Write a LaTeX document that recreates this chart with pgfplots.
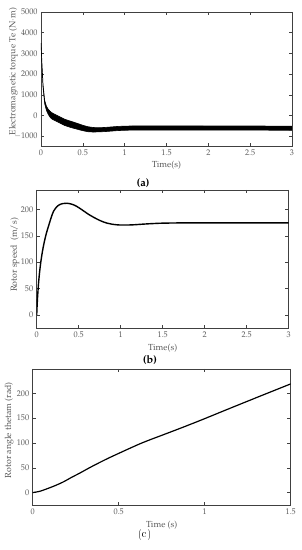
\documentclass[border=0pt]{standalone}
\usepackage[T1]{fontenc}
\usepackage{mathpazo}
\usepackage{pgfplots}
\pgfplotsset{compat=1.18}
\definecolor{axgray}{gray}{0.25}
\definecolor{txtgray}{gray}{0.35}
\pgfplotsset{
  myax/.style={
    scale only axis,
    anchor=south west,
    axis line style={axgray, line width=0.6pt},
    every tick/.style={axgray, line width=0.5pt},
    tick align=inside,
    major tick length=3.2pt,
    tick label style={font=\fontsize{8.2}{9}\selectfont, text=txtgray},
    label style={font=\fontsize{8.8}{10}\selectfont, text=txtgray},
    xlabel={Time(s)},
    ylabel style={anchor=center},
    xlabel style={anchor=center},
    clip=true,
  }
}
\begin{document}
\begin{tikzpicture}
\useasboundingbox (0,0) rectangle (301pt,550pt);
% ---------------- (a)
\begin{axis}[myax,
  at={(41pt,404pt)}, width=251pt, height=134pt,
  xmin=0, xmax=3, ymin=-1470, ymax=5000,
  xtick={0,0.5,1,1.5,2,2.5,3},
  xticklabels={0,0.5,1,1.5,2,2.5,3},
  ytick={-1000,0,1000,2000,3000,4000,5000},
  scaled y ticks=false,
  yticklabel style={/pgf/number format/1000 sep={}},
  ylabel={Electromagnetic torque Te (N$\cdot$m)},
  xlabel style={at={(axis description cs:0.5,-0.142)}},
  ylabel style={at={(axis description cs:-0.110,0.556)}},
]
\addplot[fill=black, draw=black, line width=0.6pt] coordinates {
(0,3500) (0.012,2460) (0.024,1520) (0.044,730) (0.065,450) (0.084,320)
(0.105,220) (0.124,150) (0.15,90) (0.2,-10) (0.283,-180) (0.36,-280)
(0.442,-390) (0.5,-470) (0.562,-540) (0.62,-575) (0.681,-590) (0.76,-575)
(0.84,-550) (0.92,-525) (1.0,-510) (1.16,-500) (1.5,-500) (2.0,-505)
(2.5,-505) (3.0,-510)
(3.0,-710) (2.5,-705) (2.0,-705) (1.5,-700) (1.16,-700) (1.0,-710)
(0.92,-725) (0.84,-750) (0.76,-775) (0.681,-790) (0.62,-795) (0.562,-780)
(0.5,-730) (0.442,-670) (0.36,-580) (0.283,-480) (0.2,-310) (0.15,-210)
(0.124,-150) (0.105,-60) (0.084,80) (0.065,250) (0.044,570) (0.024,1380)
(0.012,2340) (0,3500)
} -- cycle;
\end{axis}
\node[font=\fontsize{11}{13}\selectfont\bfseries] at (143pt,367.3pt) {(a)};
% ---------------- (b)
\begin{axis}[myax,
  at={(36.7pt,222pt)}, width=252pt, height=138pt,
  xmin=0, xmax=3, ymin=-25, ymax=237,
  xtick={0,0.5,1,1.5,2,2.5,3},
  xticklabels={0,0.5,1,1.5,2,2.5,3},
  ytick={0,50,100,150,200},
  ylabel={Rotor speed\ \ (m/s)},
  xlabel style={at={(axis description cs:0.5,-0.147)}},
  ylabel style={at={(axis description cs:-0.086,0.529)}},
]
\addplot[black, line width=1.4pt, smooth, tension=0.35] coordinates {
(0,0) (0.005,18.1) (0.01,32.8) (0.02,56.1) (0.03,74.2) (0.04,89)
(0.05,101.5) (0.065,117.2) (0.08,130.4) (0.1,145.1) (0.12,157.6)
(0.15,173.3) (0.175,186) (0.2,196.5) (0.235,204.5) (0.27,209) (0.31,211.2)
(0.364,211.8) (0.42,210) (0.47,206.5) (0.515,202) (0.57,196) (0.62,190.5)
(0.68,185) (0.74,180) (0.8,176) (0.84,174) (0.9,172) (0.95,171) (1.0,170.5)
(1.08,170.5) (1.16,171) (1.25,172) (1.35,173) (1.49,174) (1.7,174.5)
(2.0,174.5) (2.5,174.5) (3.0,174.5)
};
\end{axis}
\node[font=\fontsize{11}{13}\selectfont\bfseries] at (150pt,190pt) {(b)};
% ---------------- (c)
\begin{axis}[myax,
  at={(32.7pt,45pt)}, width=258pt, height=136pt,
  xmin=0, xmax=1.5, ymin=-25, ymax=249,
  xtick={0,0.5,1,1.5},
  xticklabels={0,0.5,1,1.5},
  ytick={0,50,100,150,200},
  xlabel={Time (s)},
  ylabel={Rotor angle thetam (rad)},
  xlabel style={at={(axis description cs:0.5,-0.152)}},
  ylabel style={at={(axis description cs:-0.0907,0.551)}},
]
\addplot[black, line width=1.2pt, smooth, tension=0.5] coordinates {
(0,0) (0.04,2.5) (0.081,7.4) (0.13,14) (0.178,21.5) (0.225,30.5)
(0.275,39.5) (0.322,48.5) (0.372,57.6) (0.435,68.5) (0.5,79) (0.56,88.5)
(0.624,98.4) (0.69,107.5) (0.759,116.5) (0.88,132.5) (1.0,149) (1.12,166)
(1.244,183.4) (1.37,201) (1.5,219)
};
\end{axis}
\node[font=\fontsize{11}{13}\selectfont\sffamily] at (145pt,15pt) {(c)};
\end{tikzpicture}
\end{document}
